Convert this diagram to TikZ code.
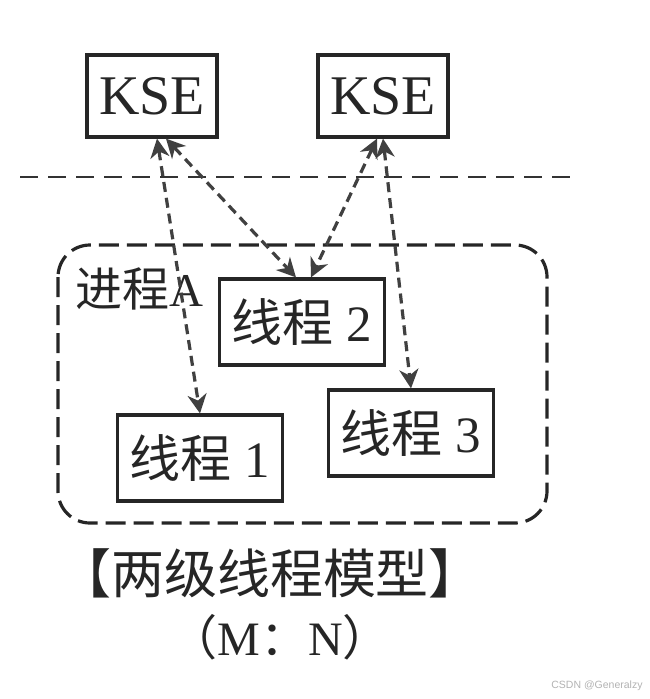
\documentclass[tikz,border=0pt]{standalone}
\usepackage{fontspec}
\setmainfont{Liberation Serif}
\newfontfamily\cjk{Noto Sans CJK SC}
\newfontfamily\wmfont{Liberation Sans}
\usetikzlibrary{arrows.meta}
\tikzset{
  threadbox/.style={draw=black!85, line width=3.2pt, minimum width=165pt, minimum height=86pt, inner sep=0pt, text=black!85, font=\fontsize{51}{55}\selectfont},
  ksebox/.style={threadbox, minimum width=130pt, minimum height=82pt, font=\fontsize{56}{60}\selectfont},
  link/.style={draw=black!75, line width=3.2pt, dash pattern=on 10pt off 6pt, {Stealth[length=19pt,width=19pt,inset=6pt]}-{Stealth[length=19pt,width=19pt,inset=6pt]}},
}
\begin{document}
\begin{tikzpicture}[x=1pt,y=-1pt]
\useasboundingbox (0,0) rectangle (649,699);
% kernel / user boundary
\draw[black!80, line width=2.6pt, dash pattern=on 18pt off 10pt] (20,177) -- (572,177);
% process
\draw[black!85, line width=3.2pt, dash pattern=on 20pt off 8pt, rounded corners=32pt] (58,245) rectangle (547,523);
\node[anchor=west, text=black!85, font=\fontsize{47}{50}\selectfont] (proc) at (72,289) {{\cjk 进程}A};
% kernel entities
\node[ksebox] (kse1) at (152,96) {KSE};
\node[ksebox] (kse2) at (383,96) {KSE};
% threads
\node[threadbox] (t2) at (302,322) {{\cjk 线程} 2};
\node[threadbox] (t1) at (200,458) {{\cjk 线程} 1};
\node[threadbox] (t3) at (411,433) {{\cjk 线程} 3};
% mappings
\draw[link] ([xshift=5pt]kse1.south) -- (t1.north);
\draw[link] ([xshift=14pt]kse1.south) -- ([xshift=-6pt]t2.north);
\draw[link] ([xshift=-6pt]kse2.south) -- ([xshift=9pt]t2.north);
\draw[link] (kse2.south) -- (t3.north);
% caption
\node[text=black!85, font=\fontsize{53}{56}\selectfont\cjk] (title) at (270,573) {【两级线程模型】};
\node[text=black!85, font=\fontsize{48}{52}\selectfont] (ratio) at (280,637) {{\cjk （}M{\cjk ：}N{\cjk ）}};
\node[text=gray!60, font=\fontsize{10.5}{12}\selectfont\wmfont] (mark) at (597,686) {CSDN @Generalzy};
\end{tikzpicture}
\end{document}
